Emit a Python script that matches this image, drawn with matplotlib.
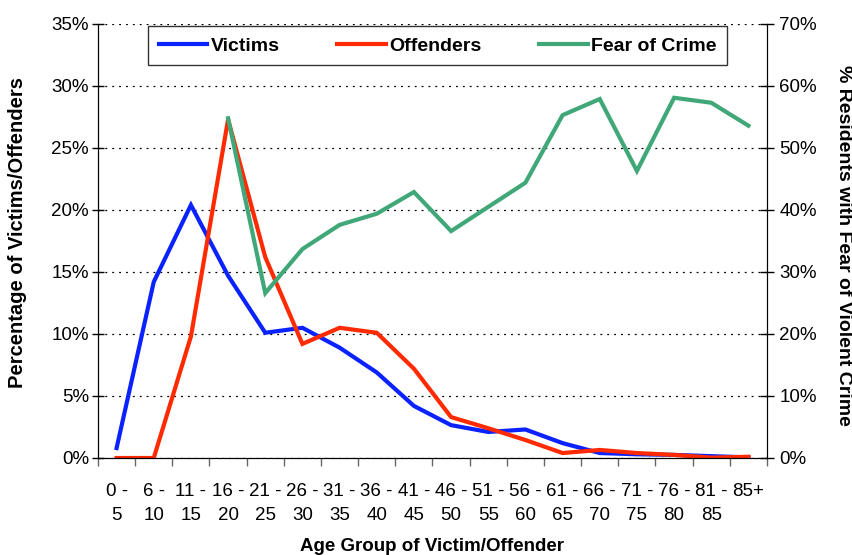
import matplotlib
matplotlib.use('Agg')
import matplotlib.pyplot as plt
from matplotlib.ticker import FixedLocator, FuncFormatter
import numpy as np

plt.rcParams['font.family'] = ['Liberation Sans', 'DejaVu Sans']

age_groups = ['0 -\n5', '6 -\n10', '11 -\n15', '16 -\n20', '21 -\n25', '26 -\n30',
              '31 -\n35', '36 -\n40', '41 -\n45', '46 -\n50', '51 -\n55', '56 -\n60',
              '61 -\n65', '66 -\n70', '71 -\n75', '76 -\n80', '81 -\n85', '85+\n']
victims = [0.8, 14.2, 20.4, 14.7, 10.1, 10.5, 8.9, 6.9, 4.2, 2.65, 2.1, 2.3,
           1.2, 0.4, 0.3, 0.25, 0.15, 0.05]
offenders = [0.0, 0.0, 9.8, 27.3, 16.2, 9.2, 10.5, 10.1, 7.2, 3.3, 2.4, 1.45,
             0.4, 0.65, 0.4, 0.25, 0.03, 0.1]
# fear of crime only reported from 16-20 onwards
fear_groups = age_groups[3:]
fear = [54.8, 26.6, 33.7, 37.6, 39.4, 42.9, 36.6, 40.5, 44.4, 55.3, 57.9,
        46.3, 58.1, 57.3, 53.6]

BLUE = '#0A22FF'
RED = '#FF2A00'
GREEN = '#40A878'

fig = plt.figure(figsize=(8.53, 5.55), dpi=100)
ax = fig.add_axes([98 / 853, 97 / 555, 669 / 853, 434 / 555])
ax2 = ax.twinx()

x = np.arange(len(age_groups))
xf = np.arange(3, 3 + len(fear_groups))

ax.plot(x, victims, color=BLUE, lw=3.0, label='Victims', solid_joinstyle='miter')
ax.plot(x, offenders, color=RED, lw=3.0, label='Offenders', solid_joinstyle='miter')
ax2.plot(xf, fear, color=GREEN, lw=3.0, label='Fear of Crime', solid_joinstyle='miter')

ax.set_xlim(-0.5, len(age_groups) - 0.5)
ax.set_ylim(0, 35)
ax2.set_ylim(0, 70)

pct = FuncFormatter(lambda v, p: f'{v:.0f}%')
ax.set_yticks(np.arange(0, 36, 5))
ax.yaxis.set_major_formatter(pct)
ax2.set_yticks(np.arange(0, 71, 10))
ax2.yaxis.set_major_formatter(pct)
ax.yaxis.grid(True, color='black', linestyle=(0, (1.5, 4)), lw=0.9)

ax.xaxis.set_major_locator(FixedLocator(np.arange(-0.5, len(age_groups), 1)))
ax.xaxis.set_major_formatter(FuncFormatter(lambda v, p: ''))
ax.xaxis.set_minor_locator(FixedLocator(x))
ax.set_xticklabels(age_groups, minor=True)
ax.tick_params(axis='x', which='major', length=6, color='#666666', width=1)
ax.tick_params(axis='x', which='minor', length=0, pad=18, labelsize=13.5)
ax.tick_params(axis='y', direction='inout', length=9, width=1, labelsize=13.5, pad=2)
ax2.tick_params(axis='y', direction='inout', length=10, width=1, labelsize=13.5, pad=4)
for lbl in ax.get_xticklabels(minor=True):
    lbl.set_linespacing(1.55)

for a in (ax, ax2):
    for s in a.spines.values():
        s.set_color('black')
    a.spines['top'].set_visible(False)

ax.set_xlabel('Age Group of Victim/Offender', fontweight='bold', fontsize=13.5, va='center')
ax.xaxis.set_label_coords(0.5, -0.203)
ax.set_ylabel('Percentage of Victims/Offenders', fontweight='bold', fontsize=14.5, va='center')
ax.yaxis.set_label_coords(-0.12, 0.52)
ax2.set_ylabel('% Residents with Fear of Violent Crime', fontweight='bold', fontsize=14,
               rotation=-90, va='center')
ax2.yaxis.set_label_coords(1.114, 0.49)

h1, l1 = ax.get_legend_handles_labels()
h2, l2 = ax2.get_legend_handles_labels()
leg = ax2.legend(h1 + h2, l1 + l2, ncol=3, mode='expand',
                 bbox_to_anchor=(0.075, 0.905, 0.865, 0.115), loc='lower left',
                 prop={'weight': 'bold', 'size': 14}, frameon=True, fancybox=False,
                 edgecolor='#333333', framealpha=1, handlelength=2.5, handletextpad=0.15,
                 borderaxespad=0, borderpad=0.55)
leg.get_frame().set_linewidth(1.0)
leg.set_zorder(10)

fig.savefig('out.png', dpi=100, facecolor='white')
